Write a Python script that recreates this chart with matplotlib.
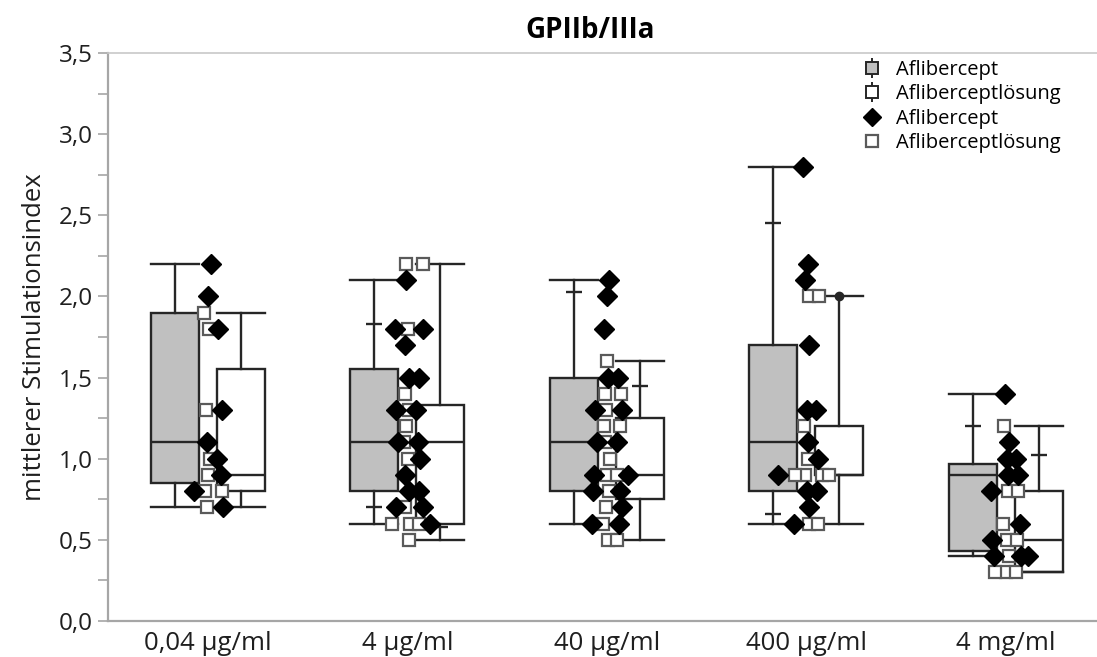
"""
Box plot GPIIb/IIIa: Aflibercept vs. Aflibercept-Loesung with single values.
"""
import numpy as np
import matplotlib
matplotlib.use('Agg')
import matplotlib.pyplot as plt
from matplotlib.lines import Line2D
from matplotlib.ticker import FuncFormatter, MultipleLocator

# Data
groups = ['0,04 µg/ml', '4 µg/ml', '40 µg/ml', '400 µg/ml', '4 mg/ml']

# box stats (whisker low, q1, median, q3, whisker high)
afli_box = [
    [0.70, 0.85, 1.10, 1.90, 2.20],
    [0.60, 0.80, 1.10, 1.55, 2.10],
    [0.60, 0.80, 1.10, 1.50, 2.10],
    [0.60, 0.80, 1.10, 1.70, 2.80],
    [0.40, 0.43, 0.90, 0.97, 1.40],
]
loes_box = [
    [0.70, 0.80, 0.90, 1.55, 1.90],
    [0.50, 0.60, 1.10, 1.33, 2.20],
    [0.50, 0.75, 0.90, 1.25, 1.60],
    [0.60, 0.90, 0.90, 1.20, 2.00],
    [0.30, 0.30, 0.50, 0.80, 1.20],
]
# small marks on the whiskers
afli_ticks = [[], [1.83, 0.70], [2.03], [2.45, 0.66], [1.20]]
loes_ticks = [[], [0.58], [1.45], [], [1.02]]
loes_dots = [[], [], [], [2.00], []]

# single values
afli_points = [
    [2.2, 2.0, 1.8, 1.3, 1.1, 1.0, 0.9, 0.8, 0.7],
    [2.1, 1.8, 1.8, 1.7, 1.5, 1.5, 1.3, 1.3, 1.1, 1.1, 1.0, 0.9, 0.8, 0.8, 0.7, 0.7, 0.6],
    [2.1, 2.0, 1.8, 1.5, 1.5, 1.3, 1.3, 1.1, 1.1, 0.9, 0.9, 0.8, 0.8, 0.7, 0.6, 0.6],
    [2.8, 2.2, 2.1, 1.7, 1.3, 1.3, 1.1, 1.0, 0.9, 0.8, 0.8, 0.7, 0.6],
    [1.4, 1.1, 1.0, 1.0, 0.9, 0.9, 0.8, 0.6, 0.5, 0.4, 0.4, 0.4],
]
loes_points = [
    [1.9, 1.8, 1.3, 1.0, 0.9, 0.8, 0.8, 0.7],
    [2.2, 2.2, 1.8, 1.4, 1.3, 1.2, 1.1, 1.0, 0.7, 0.6, 0.6, 0.6, 0.5],
    [1.6, 1.4, 1.4, 1.3, 1.2, 1.2, 1.1, 1.0, 0.9, 0.9, 0.8, 0.7, 0.6, 0.5, 0.5],
    [2.0, 2.0, 1.2, 1.0, 0.9, 0.9, 0.9, 0.9, 0.6, 0.6],
    [1.2, 0.8, 0.8, 0.6, 0.5, 0.5, 0.4, 0.3, 0.3, 0.3],
]

# Style
textColour = '#1f1f1f'
axisColour = '#a6a6a6'
greyFill = '#c0c0c0'
edge = '#262626'
plt.rcParams['font.family'] = ['Open Sans', 'DejaVu Sans']

W, H = 1097, 657
fig = plt.figure(figsize=(W / 100, H / 100), dpi=100)
ax = fig.add_axes([108 / W, 1 - 621 / H, 1 - 108 / W, (621 - 53) / H])

offset = 0.165
bw = 0.24


def stats(b):
    return {'whislo': b[0], 'q1': b[1], 'med': b[2], 'q3': b[3], 'whishi': b[4], 'fliers': []}


x = np.arange(len(groups))
for boxes, pos, fc in [(afli_box, x - offset, greyFill), (loes_box, x + offset, 'white')]:
    ax.bxp([stats(b) for b in boxes], positions=pos, widths=bw, capwidths=bw,
           patch_artist=True, showfliers=False,
           boxprops=dict(facecolor=fc, edgecolor=edge, linewidth=1.7),
           medianprops=dict(color=edge, linewidth=1.7),
           whiskerprops=dict(color=edge, linewidth=1.7),
           capprops=dict(color=edge, linewidth=1.7))

for i in range(len(groups)):
    for v in afli_ticks[i]:
        ax.hlines(v, x[i] - offset - 0.04, x[i] - offset + 0.04, color=edge, lw=1.7, zorder=3)
    for v in loes_ticks[i]:
        ax.hlines(v, x[i] + offset - 0.04, x[i] + offset + 0.04, color=edge, lw=1.7, zorder=3)
    for v in loes_dots[i]:
        ax.plot(x[i] + offset, v, 'o', color=edge, ms=6, zorder=3)


def spread(i, afli, loes):
    # deterministic side-by-side placement of equal values around the group centre
    allVals = list(loes) + list(afli)
    seen = {}
    xs = []
    for k, v in enumerate(allVals):
        n = seen.get(v, 0)
        seen[v] = n + 1
        step = (n + 1) // 2 * 0.062 * (1 if n % 2 else -1)
        wobble = ((k * 0.618 + i * 0.3) % 1 - 0.5) * 0.035
        xs.append(i + step + wobble)
    return xs[len(loes):], xs[:len(loes)]


for i in range(len(groups)):
    ax_x, lo_x = spread(i, afli_points[i], loes_points[i])
    ax.plot(lo_x, loes_points[i], 's', ms=8.5, mfc='white', mec='#5a5a5a', mew=1.6, ls='none', zorder=4)
    ax.plot(ax_x, afli_points[i], 'D', ms=10, color='black', ls='none', zorder=5)

ax.set_xlim(-0.5, -0.5 + (W - 108) / 199.5)
ax.set_ylim(0, 3.5)
ax.set_xticks(x)
ax.set_xticklabels(groups, fontsize=18.5, color=textColour)
ax.tick_params(axis='x', length=0, pad=7)
ax.yaxis.set_major_locator(MultipleLocator(0.5))
ax.yaxis.set_minor_locator(MultipleLocator(0.25))
ax.yaxis.set_major_formatter(FuncFormatter(lambda v, p: '{:.1f}'.format(v).replace('.', ',')))
ax.tick_params(axis='y', which='both', direction='out', length=7, width=1.2, color=axisColour,
               labelsize=17.5, labelcolor=textColour, pad=4)
for s in ['left', 'bottom']:
    ax.spines[s].set_color(axisColour)
    ax.spines[s].set_linewidth(1.6)
ax.spines['top'].set_color('#c8c8c8')
ax.spines['top'].set_linewidth(1.2)
ax.spines['right'].set_visible(False)
ax.set_ylabel('mittlerer Stimulationsindex', fontsize=18.5, color=textColour, labelpad=8)

fig.text(590 / W, 1 - 30 / H, 'GPIIb/IIIa', ha='center', va='center', fontsize=20,
         fontweight='bold', color='black')

# legend
boxGrey = (Line2D([], [], marker='|', color=edge, ms=15, mew=1.4, ls='none'),
           Line2D([], [], marker='s', ms=9, mfc=greyFill, mec=edge, mew=1.4, ls='none'))
boxWhite = (Line2D([], [], marker='|', color=edge, ms=15, mew=1.4, ls='none'),
            Line2D([], [], marker='s', ms=9, mfc='white', mec=edge, mew=1.4, ls='none'))
dia = Line2D([], [], marker='D', ms=9, color='black', ls='none')
sq = Line2D([], [], marker='s', ms=8.5, mfc='white', mec='#5a5a5a', mew=1.6, ls='none')
fig.legend([boxGrey, boxWhite, dia, sq],
           ['Aflibercept', 'Afliberceptlösung', 'Aflibercept', 'Afliberceptlösung'],
           loc='upper left', bbox_to_anchor=(862 / W, 1 - 60 / H), frameon=False,
           fontsize=14.5, handlelength=1.0, handletextpad=0.7, labelspacing=0.22,
           borderaxespad=0, borderpad=0)

plt.savefig('out.png', dpi=100)
